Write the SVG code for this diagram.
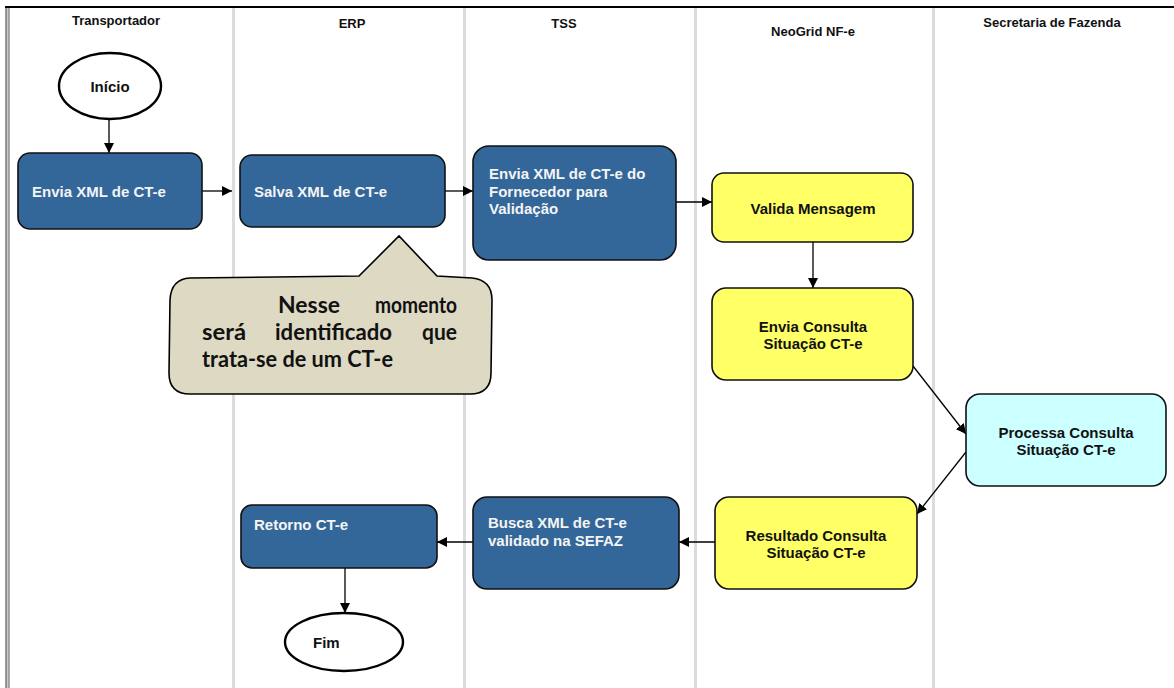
<svg xmlns="http://www.w3.org/2000/svg" width="1174" height="688" viewBox="0 0 1174 688">
<style>
.hdr{font-family:"Liberation Sans",Arial,sans-serif;font-weight:bold;font-size:13px;fill:#111;text-anchor:middle}
.blue{fill:#336699;stroke:#111;stroke-width:1.6}
.yel{fill:#ffff66;stroke:#111;stroke-width:1.6}
.cyan{fill:#ccffff;stroke:#111;stroke-width:1.6}
.ell{fill:#fff;stroke:#000;stroke-width:2.4}
.wt{font-family:"Liberation Sans",Arial,sans-serif;font-weight:bold;font-size:15px;fill:#f4f4f4}
.bt{font-family:"Liberation Sans",Arial,sans-serif;font-weight:bold;font-size:15px;fill:#111}
.bc{font-family:"Liberation Sans",Arial,sans-serif;font-weight:bold;font-size:15px;fill:#111;text-anchor:middle}
.co{font-family:Lato,"Open Sans",sans-serif;font-weight:bold;font-size:22.5px;fill:#111}
.conn{stroke:#000;stroke-width:1.3;fill:none;marker-end:url(#ah)}
.div{fill:#dcdcdc}
</style>
<defs>
<marker id="ah" viewBox="0 0 10 10" refX="10" refY="5" markerWidth="10" markerHeight="10" markerUnits="userSpaceOnUse" orient="auto">
<path d="M0,0 L10,5 L0,10 Z" fill="#000"/>
</marker>
</defs>
<rect width="1174" height="688" fill="#fff"/>
<g id="lanes">
<line x1="5" y1="7" x2="1174" y2="7" stroke="#000" stroke-width="2"/>
<rect x="5.5" y="8" width="4" height="680" fill="#c8c8c8"/>
<line x1="6" y1="8" x2="6" y2="688" stroke="#555" stroke-width="1"/>
<line x1="9" y1="8" x2="9" y2="688" stroke="#777" stroke-width="1"/>
<rect class="div" x="232" y="8" width="3" height="680"/>
<rect class="div" x="463" y="8" width="3" height="680"/>
<rect class="div" x="694" y="8" width="3" height="680"/>
<rect class="div" x="932" y="8" width="3" height="680"/>
<text class="hdr" x="116" y="25">Transportador</text>
<text class="hdr" x="352" y="28">ERP</text>
<text class="hdr" x="564" y="28">TSS</text>
<text class="hdr" x="813" y="36">NeoGrid NF-e</text>
<text class="hdr" x="1052" y="27">Secretaria de Fazenda</text>
</g>
<g id="connectors">
<line class="conn" x1="109" y1="120" x2="109" y2="153"/>
<line class="conn" x1="202" y1="191" x2="232" y2="191"/>
<line class="conn" x1="445" y1="191" x2="473" y2="191"/>
<line class="conn" x1="676" y1="202" x2="712" y2="202"/>
<line class="conn" x1="813" y1="242" x2="813" y2="288"/>
<line class="conn" x1="913" y1="366" x2="966" y2="434"/>
<line class="conn" x1="966" y1="452" x2="917" y2="514"/>
<line class="conn" x1="715" y1="542" x2="679" y2="542"/>
<line class="conn" x1="473" y1="542" x2="437" y2="542"/>
<line class="conn" x1="345" y1="568" x2="345" y2="613"/>
</g>
<g id="inicio">
<ellipse class="ell" cx="110" cy="86" rx="51" ry="33"/>
<text class="bc" x="110" y="92">Início</text>
</g>
<g id="envia-xml">
<rect class="blue" x="18" y="153" width="184" height="76" rx="12"/>
<text class="wt" x="32" y="197">Envia XML de CT-e</text>
</g>
<g id="salva-xml">
<rect class="blue" x="240" y="155" width="205" height="72" rx="12"/>
<text class="wt" x="254" y="197">Salva XML de CT-e</text>
</g>
<g id="envia-fornecedor">
<rect class="blue" x="473" y="146" width="203" height="114" rx="16"/>
<text class="wt" x="489" y="179">Envia XML de CT-e do</text>
<text class="wt" x="489" y="197">Fornecedor para</text>
<text class="wt" x="489" y="214">Validação</text>
</g>
<g id="valida-mensagem">
<rect class="yel" x="712" y="173" width="201" height="69" rx="12"/>
<text class="bc" x="813" y="214">Valida Mensagem</text>
</g>
<g id="envia-consulta">
<rect class="yel" x="712" y="288" width="201" height="92" rx="14"/>
<text class="bc" x="813" y="332">Envia Consulta</text>
<text class="bc" x="813" y="349">Situação CT-e</text>
</g>
<g id="processa-consulta">
<rect class="cyan" x="966" y="394" width="200" height="92" rx="14"/>
<text class="bc" x="1066" y="438">Processa Consulta</text>
<text class="bc" x="1066" y="455">Situação CT-e</text>
</g>
<g id="resultado-consulta">
<rect class="yel" x="715" y="497" width="202" height="92" rx="14"/>
<text class="bc" x="816" y="541">Resultado Consulta</text>
<text class="bc" x="816" y="558">Situação CT-e</text>
</g>
<g id="busca-xml">
<rect class="blue" x="473" y="497" width="206" height="92" rx="14"/>
<text class="wt" x="488" y="528">Busca XML de CT-e</text>
<text class="wt" x="488" y="546">validado na SEFAZ</text>
</g>
<g id="retorno">
<rect class="blue" x="241" y="505" width="196" height="63" rx="11"/>
<text class="wt" x="254" y="530">Retorno CT-e</text>
</g>
<g id="fim">
<ellipse class="ell" cx="344" cy="642" rx="59" ry="29"/>
<text class="bt" x="313" y="648">Fim</text>
</g>
<g id="callout">
<path d="M190 278 L359 276 L399 236 L437 276 L472 278 Q492 280 492 300 L491 373 Q491 394 470 394 L190 394 Q169 394 169 373 L170 300 Q171 279 190 278 Z" fill="#ddd9c3" stroke="#000" stroke-width="1.6"/>
<text class="co" x="278" y="313" textLength="62" lengthAdjust="spacingAndGlyphs">Nesse</text>
<text class="co" x="375" y="313" textLength="82" lengthAdjust="spacingAndGlyphs">momento</text>
<text class="co" x="202" y="340" textLength="44" lengthAdjust="spacingAndGlyphs">será</text>
<text class="co" x="275" y="340" textLength="117" lengthAdjust="spacingAndGlyphs">identificado</text>
<text class="co" x="422" y="340" textLength="35" lengthAdjust="spacingAndGlyphs">que</text>
<text class="co" x="202" y="367" textLength="191" lengthAdjust="spacingAndGlyphs">trata-se de um CT-e</text>
</g>
</svg>
